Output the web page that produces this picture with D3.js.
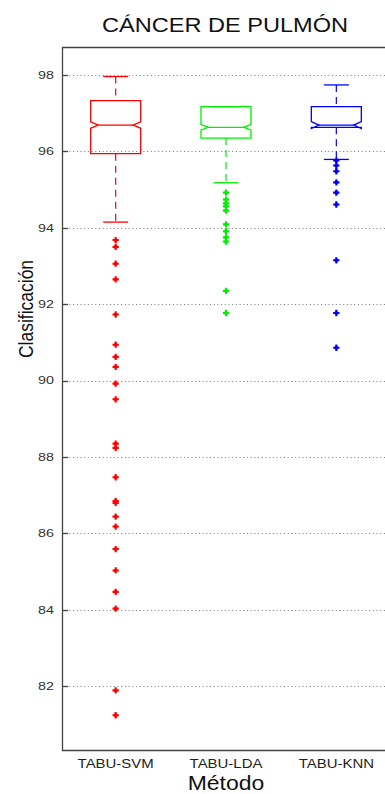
<!DOCTYPE html>
<html>
<head>
<meta charset="utf-8">
<script src="https://cdn.jsdelivr.net/npm/d3@7"></script>
<style>
	body { margin: 0; background: #fff; }
	svg { display: block; font-family: 'Liberation Sans', Arial, sans-serif; }
</style>
</head>
<body>
<div id="chart"></div>
<script>
// categories and box statistics
const methods = ['TABU-SVM', 'TABU-LDA', 'TABU-KNN']
const colors = ['#ff0000', '#00ee00', '#0000ff']
const whiskerHi = [97.96, 97.17, 97.74]
const q3 = [97.33, 97.17, 97.17]
const medians = [96.69, 96.63, 96.69]
const q1 = [95.94, 96.35, 96.63]
const whiskerLo = [94.15, 95.18, 95.79]
const notchHalf = [0.085, 0.07, 0.09]
const outliersSVM = [93.68, 93.5, 93.06, 92.65, 91.73, 90.94, 90.62, 90.36, 89.92, 89.51, 88.35, 88.24, 87.47, 86.85, 86.8, 86.44, 86.18, 85.59, 85.03, 84.47, 84.03, 81.89, 81.24]
const outliersLDA = [94.92, 94.74, 94.64, 94.56, 94.45, 94.09, 93.91, 93.75, 93.64, 92.35, 91.77]
const outliersKNN = [95.76, 95.63, 95.48, 95.19, 94.92, 94.61, 93.15, 91.77, 90.86]
const outliers = [outliersSVM, outliersLDA, outliersKNN]
const yTicks = [82, 84, 86, 88, 90, 92, 94, 96, 98]

const W = 385, H = 794
const m = { top: 47, left: 62, bottom: 750 }
const stretch = 1.15 // the picture is a bit wider than tall, text included

const svg = d3.select('#chart').append('svg').attr('width', W).attr('height', H)

const x = d3.scaleBand().domain(methods).range([60.5, 391.5]).paddingInner(0)
const y = d3.scaleLinear().domain([80.33, 98.733]).range([m.bottom, m.top])

const boxHalf = 25
const capHalf = 12.5
const notchDepth = 7.5

// grid
svg.append('g')
	.selectAll('line')
	.data(yTicks)
	.enter()
	.append('line')
	.attr('x1', m.left)
	.attr('x2', W)
	.attr('y1', (d) => Math.round(y(d)) + 0.5)
	.attr('y2', (d) => Math.round(y(d)) + 0.5)
	.style('stroke', '#777')
	.style('stroke-width', 1)
	.style('stroke-dasharray', '1,2.7')

// frame
svg.append('path')
	.attr('d', `M${W},${m.top + 0.5}H${m.left + 0.5}V${m.bottom + 0.5}H${W}`)
	.style('fill', 'none')
	.style('stroke', '#444')
	.style('stroke-width', 1.3)

// y axis ticks (inside) and labels
const yAxis = svg.append('g')
yAxis.selectAll('.tick')
	.data(yTicks)
	.enter()
	.append('line')
	.attr('x1', m.left)
	.attr('x2', m.left + 6)
	.attr('y1', (d) => Math.round(y(d)) + 0.5)
	.attr('y2', (d) => Math.round(y(d)) + 0.5)
	.style('stroke', '#444')
	.style('stroke-width', 1.3)
yAxis.selectAll('text')
	.data(yTicks)
	.enter()
	.append('text')
	.attr('transform', (d) => `translate(54,${y(d)}) scale(1.3,1)`)
	.attr('dy', '0.35em')
	.attr('text-anchor', 'end')
	.style('font-size', '11px')
	.style('fill', '#333')
	.text((d) => d)

// x labels
svg.append('g')
	.selectAll('text')
	.data(methods)
	.enter()
	.append('text')
	.attr('transform', (d) => `translate(${x(d) + x.bandwidth() / 2},768) scale(${stretch},1)`)
	.attr('text-anchor', 'middle')
	.style('font-size', '13px')
	.style('fill', '#222')
	.text((d) => d)

// boxes
const boxes = svg.append('g')
	.selectAll('.box')
	.data(methods)
	.enter()
	.append('g')
	.attr('class', 'box')

const cx = (d) => x(d) + x.bandwidth() / 2

// whiskers (dashed)
boxes.append('line')
	.attr('x1', cx).attr('x2', cx)
	.attr('y1', (d, i) => y(whiskerHi[i]))
	.attr('y2', (d, i) => y(q3[i]))
	.style('stroke', (d, i) => colors[i])
	.style('stroke-width', 1.2)
	.style('stroke-dasharray', '7,5')
boxes.append('line')
	.attr('x1', cx).attr('x2', cx)
	.attr('y1', (d, i) => y(q1[i]))
	.attr('y2', (d, i) => y(whiskerLo[i]))
	.style('stroke', (d, i) => colors[i])
	.style('stroke-width', 1.2)
	.style('stroke-dasharray', '7,5')

// caps
boxes.append('line')
	.attr('x1', (d) => cx(d) - capHalf).attr('x2', (d) => cx(d) + capHalf)
	.attr('y1', (d, i) => y(whiskerHi[i])).attr('y2', (d, i) => y(whiskerHi[i]))
	.style('stroke', (d, i) => colors[i])
	.style('stroke-width', 1.3)
boxes.append('line')
	.attr('x1', (d) => cx(d) - capHalf).attr('x2', (d) => cx(d) + capHalf)
	.attr('y1', (d, i) => y(whiskerLo[i])).attr('y2', (d, i) => y(whiskerLo[i]))
	.style('stroke', (d, i) => colors[i])
	.style('stroke-width', 1.3)

// notched box outline
boxes.append('path')
	.attr('d', (d, i) => {
		const l = cx(d) - boxHalf, r = cx(d) + boxHalf
		const nHi = y(medians[i] + notchHalf[i]), nLo = y(medians[i] - notchHalf[i])
		const md = y(medians[i])
		return `M${l},${y(q3[i])}H${r}V${nHi}L${r - notchDepth},${md}L${r},${nLo}V${y(q1[i])}` +
			`H${l}V${nLo}L${l + notchDepth},${md}L${l},${nHi}Z`
	})
	.style('fill', 'none')
	.style('stroke', (d, i) => colors[i])
	.style('stroke-width', 1.3)

// median
boxes.append('line')
	.attr('x1', (d) => cx(d) - boxHalf + notchDepth).attr('x2', (d) => cx(d) + boxHalf - notchDepth)
	.attr('y1', (d, i) => y(medians[i])).attr('y2', (d, i) => y(medians[i]))
	.style('stroke', (d, i) => colors[i])
	.style('stroke-width', 1.3)

// outliers: small filled plus blobs
const marker = d3.symbol().type(d3.symbolCross).size(22)
boxes.each(function (d, i) {
	const g = d3.select(this)
	g.selectAll('.outlier')
		.data(outliers[i])
		.enter()
		.append('path')
		.attr('class', 'outlier')
		.attr('d', marker)
		.attr('transform', (v) => `translate(${cx(d)},${y(v)})`)
		.style('fill', colors[i])
	g.selectAll('.outlierDot')
		.data(outliers[i])
		.enter()
		.append('circle')
		.attr('class', 'outlierDot')
		.attr('cx', cx(d))
		.attr('cy', (v) => y(v))
		.attr('r', 1.9)
		.style('fill', colors[i])
})

// titles
svg.append('text')
	.attr('transform', `translate(225,32) scale(${stretch},1)`)
	.attr('text-anchor', 'middle')
	.style('font-size', '20.5px')
	.style('fill', '#111')
	.text('CÁNCER DE PULMÓN')

svg.append('text')
	.attr('transform', `translate(226,790) scale(${stretch},1)`)
	.attr('text-anchor', 'middle')
	.style('font-size', '20px')
	.style('fill', '#111')
	.text('Método')

svg.append('text')
	.attr('transform', 'translate(33,309) rotate(-90) scale(1,1.2)')
	.attr('text-anchor', 'middle')
	.style('font-size', '17.5px')
	.style('fill', '#111')
	.text('Clasificación')
</script>
</body>
</html>
